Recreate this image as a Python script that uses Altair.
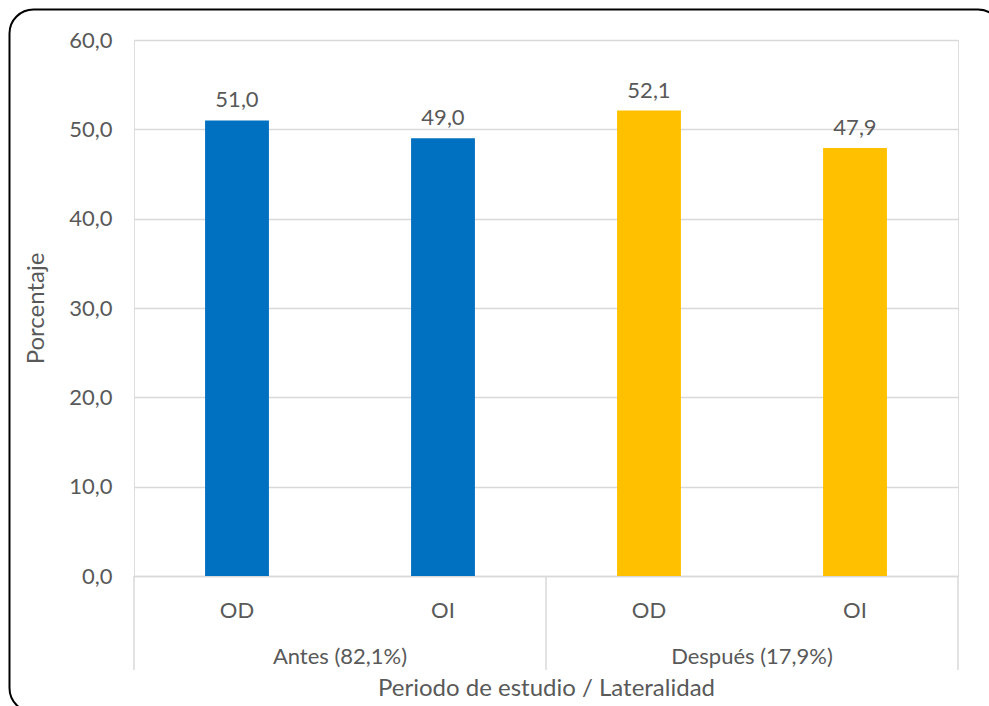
import altair as alt
import pandas as pd

# Percentages by study period and eye
periods = ["Antes (82,1%)", "Antes (82,1%)", "Después (17,9%)", "Después (17,9%)"]
eyes = ["OD", "OI", "OD", "OI"]
values = [51.0, 49.0, 52.1, 47.9]
colors = ["#0070C0", "#0070C0", "#FFC000", "#FFC000"]
group_names = ["Antes (82,1%)", "Después (17,9%)"]

FONT = "Lato"
TXT = "#595959"
GRID = "#D9D9D9"
LBL = 22
TTL = 24

W, H = 824, 536

df = pd.DataFrame({
    "key": [f"{p}|{e}" for p, e in zip(periods, eyes)],
    "periodo": periods,
    "ojo": eyes,
    "pct": values,
    "color": colors,
})
order = list(df["key"])

x_enc = alt.X(
    "key:N",
    sort=order,
    scale=alt.Scale(paddingInner=0.69, paddingOuter=0.345),
    axis=alt.Axis(
        title="Periodo de estudio / Lateralidad",
        labelExpr="split(datum.value, '|')[1]",
        labelAngle=0,
        labelFontSize=LBL,
        labelColor=TXT,
        labelFont=FONT,
        labelPadding=24,
        ticks=False,
        domainColor=GRID,
        domainWidth=1.5,
        titleFontSize=TTL,
        titleFontWeight="normal",
        titleColor=TXT,
        titleFont=FONT,
        titlePadding=55,
    ),
)

y_enc = alt.Y(
    "pct:Q",
    scale=alt.Scale(domain=[0, 60], nice=False),
    axis=alt.Axis(
        title="Porcentaje",
        values=[0, 10, 20, 30, 40, 50, 60],
        labelExpr="replace(format(datum.value, '.1f'), '.', ',')",
        labelFontSize=LBL,
        labelColor=TXT,
        labelFont=FONT,
        labelPadding=22,
        ticks=False,
        domain=False,
        gridColor=GRID,
        gridWidth=1.5,
        titleFontSize=TTL,
        titleFontWeight="normal",
        titleColor=TXT,
        titleFont=FONT,
        titlePadding=20,
    ),
)

base = alt.Chart(df)

bars = base.mark_bar().encode(
    x=x_enc,
    y=y_enc,
    color=alt.Color("color:N", scale=None),
)

labels = base.mark_text(
    dy=-20, fontSize=LBL, font=FONT, color=TXT, baseline="middle"
).transform_calculate(
    lbl="replace(format(datum.pct, '.1f'), '.', ',')"
).encode(
    x=alt.X("key:N", sort=order),
    y="pct:Q",
    text="lbl:N",
)

# Group labels sit halfway between the two bands of each period
gdf = pd.DataFrame({
    "key": [order[0], order[2]],
    "grupo": group_names,
})
group_text = alt.Chart(gdf).mark_text(
    fontSize=LBL, font=FONT, color=TXT, baseline="middle", dx=W / 8
).encode(
    x=alt.X("key:N", sort=order),
    y=alt.value(H + 81),
    text="grupo:N",
)

# Vertical dividers of the two-level category axis
ddf = pd.DataFrame({"pos": [0, W / 2, W]})
dividers = alt.Chart(ddf).mark_rule(color=GRID, strokeWidth=1.5).encode(
    x=alt.X("pos:Q", scale=None),
    y=alt.value(H),
    y2=alt.value(H + 94),
)

# Rounded outer frame
frame = alt.Chart(pd.DataFrame({"a": [0]})).mark_rect(
    fill=None, fillOpacity=0, stroke="black", strokeWidth=2, cornerRadius=24
).encode(
    x=alt.value(-124.5),
    x2=alt.value(868),
    y=alt.value(-30.5),
    y2=alt.value(672),
)

chart = alt.layer(bars, labels, group_text, dividers, frame).properties(
    width=W,
    height=H,
    padding={"left": 134, "top": 40, "right": 31, "bottom": 130},
    autosize=alt.AutoSizeParams(type="none"),
).configure_view(stroke=None).configure(background="white")

chart.save("out.html", embed_options={"renderer": "svg", "actions": False})
